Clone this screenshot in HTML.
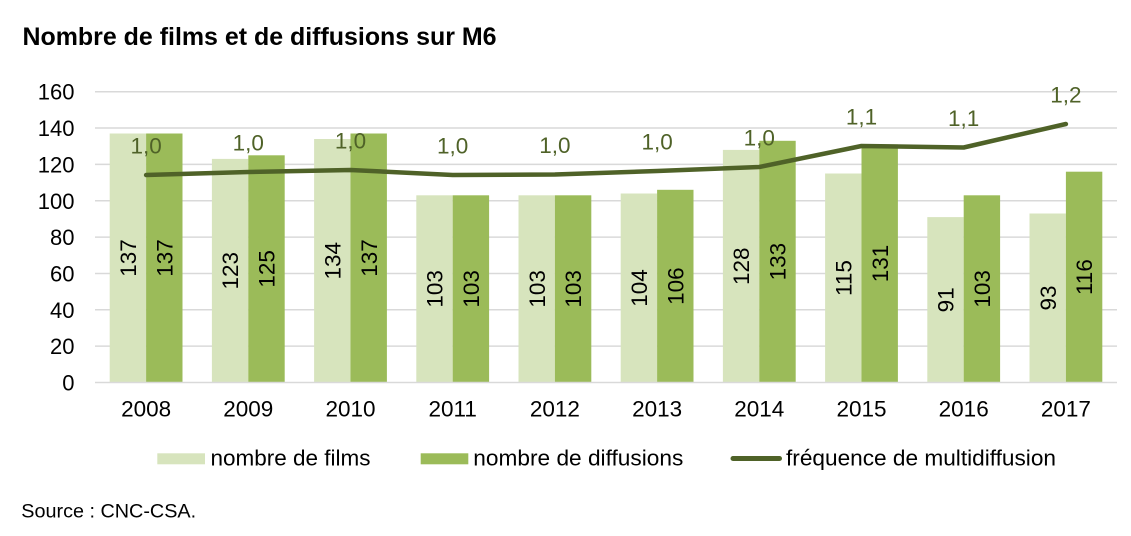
<!DOCTYPE html>
<html>
<head>
<meta charset="utf-8">
<style>
  html, body { margin: 0; padding: 0; background: #ffffff; }
  body { width: 1131px; height: 536px; overflow: hidden; }
  svg { display: block; font-family: "Liberation Sans", Arial, Helvetica, sans-serif; }
</style>
</head>
<body>
<svg width="1131" height="536" viewBox="0 0 1131 536" xmlns="http://www.w3.org/2000/svg">
  <rect x="0" y="0" width="1131" height="536" fill="#ffffff"/>

  <!-- Title -->
  <text x="22.5" y="45" font-size="24.8" font-weight="bold" fill="#000" textLength="474" lengthAdjust="spacingAndGlyphs">Nombre de films et de diffusions sur M6</text>

  <!-- Gridlines -->
  <g stroke="#d9d9d9" stroke-width="1.5">
    <line x1="95" y1="91.7" x2="1117" y2="91.7"/>
    <line x1="95" y1="128.05" x2="1117" y2="128.05"/>
    <line x1="95" y1="164.4" x2="1117" y2="164.4"/>
    <line x1="95" y1="200.75" x2="1117" y2="200.75"/>
    <line x1="95" y1="237.1" x2="1117" y2="237.1"/>
    <line x1="95" y1="273.45" x2="1117" y2="273.45"/>
    <line x1="95" y1="309.8" x2="1117" y2="309.8"/>
    <line x1="95" y1="346.15" x2="1117" y2="346.15"/>
  </g>

  <!-- Y tick labels -->
  <g font-size="22" fill="#000" text-anchor="end">
    <text x="74.5" y="99.7">160</text>
    <text x="74.5" y="136.05">140</text>
    <text x="74.5" y="172.4">120</text>
    <text x="74.5" y="208.75">100</text>
    <text x="74.5" y="245.1">80</text>
    <text x="74.5" y="281.45">60</text>
    <text x="74.5" y="317.8">40</text>
    <text x="74.5" y="354.15">20</text>
    <text x="74.5" y="390.5">0</text>
  </g>

  <!-- Bars: nombre de films (light) -->
  <g fill="#d7e4bd">
    <rect x="109.7" y="133.5" width="36.4" height="249"/>
    <rect x="211.9" y="158.9" width="36.4" height="223.6"/>
    <rect x="314.1" y="139.0" width="36.4" height="243.5"/>
    <rect x="416.3" y="195.3" width="36.4" height="187.2"/>
    <rect x="518.5" y="195.3" width="36.4" height="187.2"/>
    <rect x="620.7" y="193.5" width="36.4" height="189.0"/>
    <rect x="722.9" y="149.9" width="36.4" height="232.6"/>
    <rect x="825.1" y="173.5" width="36.4" height="209.0"/>
    <rect x="927.3" y="217.1" width="36.4" height="165.4"/>
    <rect x="1029.5" y="213.5" width="36.4" height="169.0"/>
  </g>

  <!-- Bars: nombre de diffusions (dark) -->
  <g fill="#9bbb59">
    <rect x="146.1" y="133.5" width="36.4" height="249"/>
    <rect x="248.3" y="155.3" width="36.4" height="227.2"/>
    <rect x="350.5" y="133.5" width="36.4" height="249"/>
    <rect x="452.7" y="195.3" width="36.4" height="187.2"/>
    <rect x="554.9" y="195.3" width="36.4" height="187.2"/>
    <rect x="657.1" y="189.8" width="36.4" height="192.7"/>
    <rect x="759.3" y="140.8" width="36.4" height="241.7"/>
    <rect x="861.5" y="144.4" width="36.4" height="238.1"/>
    <rect x="963.7" y="195.3" width="36.4" height="187.2"/>
    <rect x="1065.9" y="171.7" width="36.4" height="210.8"/>
  </g>

  <!-- Axis line -->
  <line x1="95" y1="382.5" x2="1117" y2="382.5" stroke="#d9d9d9" stroke-width="1.5"/>

  <!-- Vertical bar labels -->
  <g font-size="22.5" fill="#000" text-anchor="middle">
    <text transform="translate(127.9,258) rotate(-90)" dy="0.36em">137</text>
    <text transform="translate(164.3,258) rotate(-90)" dy="0.36em">137</text>
    <text transform="translate(230.1,270.7) rotate(-90)" dy="0.36em">123</text>
    <text transform="translate(266.5,268.9) rotate(-90)" dy="0.36em">125</text>
    <text transform="translate(332.3,260.75) rotate(-90)" dy="0.36em">134</text>
    <text transform="translate(368.7,258) rotate(-90)" dy="0.36em">137</text>
    <text transform="translate(434.5,288.9) rotate(-90)" dy="0.36em">103</text>
    <text transform="translate(470.9,288.9) rotate(-90)" dy="0.36em">103</text>
    <text transform="translate(536.7,288.9) rotate(-90)" dy="0.36em">103</text>
    <text transform="translate(573.1,288.9) rotate(-90)" dy="0.36em">103</text>
    <text transform="translate(638.9,288) rotate(-90)" dy="0.36em">104</text>
    <text transform="translate(675.3,286.15) rotate(-90)" dy="0.36em">106</text>
    <text transform="translate(741.1,266.2) rotate(-90)" dy="0.36em">128</text>
    <text transform="translate(777.5,261.65) rotate(-90)" dy="0.36em">133</text>
    <text transform="translate(843.3,278) rotate(-90)" dy="0.36em">115</text>
    <text transform="translate(879.7,263.45) rotate(-90)" dy="0.36em">131</text>
    <text transform="translate(945.5,299.8) rotate(-90)" dy="0.36em">91</text>
    <text transform="translate(981.9,288.9) rotate(-90)" dy="0.36em">103</text>
    <text transform="translate(1047.7,298) rotate(-90)" dy="0.36em">93</text>
    <text transform="translate(1084.1,277.1) rotate(-90)" dy="0.36em">116</text>
  </g>

  <!-- Line: fréquence de multidiffusion -->
  <polyline fill="none" stroke="#4f6228" stroke-width="4.5" stroke-linejoin="round" stroke-linecap="round"
    points="146.1,175 248.3,172 350.5,170 452.7,175 554.9,174.5 657.1,171 759.3,167 861.5,146 963.7,147.5 1065.9,124"/>

  <!-- Line labels -->
  <g font-size="22.5" fill="#4f6228" text-anchor="middle">
    <text x="146.1" y="153.5">1,0</text>
    <text x="248.3" y="150.5">1,0</text>
    <text x="350.5" y="148.5">1,0</text>
    <text x="452.7" y="153.5">1,0</text>
    <text x="554.9" y="153">1,0</text>
    <text x="657.1" y="149.5">1,0</text>
    <text x="759.3" y="145.5">1,0</text>
    <text x="861.5" y="124.5">1,1</text>
    <text x="963.7" y="126">1,1</text>
    <text x="1065.9" y="102.5">1,2</text>
  </g>

  <!-- X labels -->
  <g font-size="22.5" fill="#000" text-anchor="middle">
    <text x="146.1" y="416.7">2008</text>
    <text x="248.3" y="416.7">2009</text>
    <text x="350.5" y="416.7">2010</text>
    <text x="452.7" y="416.7">2011</text>
    <text x="554.9" y="416.7">2012</text>
    <text x="657.1" y="416.7">2013</text>
    <text x="759.3" y="416.7">2014</text>
    <text x="861.5" y="416.7">2015</text>
    <text x="963.7" y="416.7">2016</text>
    <text x="1065.9" y="416.7">2017</text>
  </g>

  <!-- Legend -->
  <rect x="157.3" y="453.3" width="47.7" height="11" fill="#d7e4bd"/>
  <text x="210.5" y="465.7" font-size="22.6" fill="#000" textLength="160" lengthAdjust="spacingAndGlyphs">nombre de films</text>
  <rect x="420.7" y="453.3" width="47.6" height="11" fill="#9bbb59"/>
  <text x="473.3" y="465.7" font-size="22.6" fill="#000" textLength="210" lengthAdjust="spacingAndGlyphs">nombre de diffusions</text>
  <line x1="733" y1="458.5" x2="779.5" y2="458.5" stroke="#4f6228" stroke-width="5" stroke-linecap="round"/>
  <text x="786" y="465.7" font-size="22.6" fill="#000" textLength="270" lengthAdjust="spacingAndGlyphs">fréquence de multidiffusion</text>

  <!-- Source -->
  <text x="21.3" y="517.3" font-size="19.8" fill="#000">Source : CNC-CSA.</text>
</svg>
</body>
</html>
